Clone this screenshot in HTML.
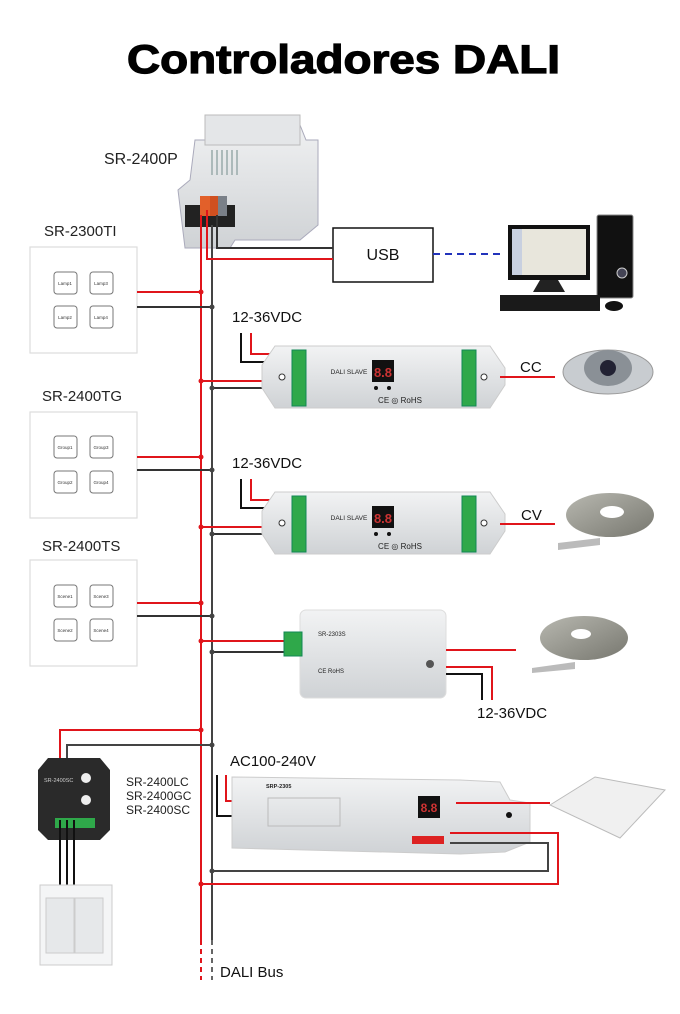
<!DOCTYPE html>
<html><head><meta charset="utf-8"><style>
html,body{margin:0;padding:0;background:#fff}
svg{display:block}
text{font-family:"Liberation Sans",Arial,sans-serif}
</style></head><body>
<svg width="680" height="1014" viewBox="0 0 680 1014" xmlns="http://www.w3.org/2000/svg">
<defs>
<linearGradient id="dev" x1="0" y1="0" x2="0" y2="1"><stop offset="0" stop-color="#f2f3f4"/><stop offset="1" stop-color="#cfd2d5"/></linearGradient>
<linearGradient id="strip" x1="0" y1="0" x2="1" y2="1"><stop offset="0" stop-color="#b8b8b0"/><stop offset="1" stop-color="#77776f"/></linearGradient>
</defs>
<text x="127" y="73" textLength="433" lengthAdjust="spacingAndGlyphs" font-size="40" font-weight="bold" fill="#000" stroke="#000" stroke-width="1.2">Controladores DALI</text>

<!-- SR-2400P -->
<text x="104" y="164" font-size="16" fill="#222">SR-2400P</text>
<polygon points="205,120 255,115 300,125 306,140 318,140 318,225 300,240 235,240 230,248 185,248 178,190 190,180 195,140 205,140" fill="url(#dev)" stroke="#aab" stroke-width="1"/>
<rect x="205" y="115" width="95" height="30" fill="#e4e6e8" stroke="#bbb"/>
<g stroke="#9aa" stroke-width="1.5"><line x1="212" y1="150" x2="212" y2="175"/><line x1="217" y1="150" x2="217" y2="175"/><line x1="222" y1="150" x2="222" y2="175"/><line x1="227" y1="150" x2="227" y2="175"/><line x1="232" y1="150" x2="232" y2="175"/><line x1="237" y1="150" x2="237" y2="175"/></g>
<rect x="185" y="205" width="50" height="22" fill="#222"/>
<rect x="200" y="196" width="10" height="20" fill="#e2602a"/><rect x="210" y="196" width="8" height="20" fill="#d05020"/>
<rect x="218" y="196" width="9" height="20" fill="#7a8088"/>

<!-- USB & computer -->
<rect x="333" y="228" width="100" height="54" fill="#fff" stroke="#111" stroke-width="1.5"/>
<text x="383" y="260" text-anchor="middle" font-size="16" fill="#111">USB</text>
<line x1="433" y1="254" x2="505" y2="254" stroke="#2233bb" stroke-width="2" stroke-dasharray="7,5"/>
<rect x="508" y="225" width="82" height="55" fill="#111"/>
<rect x="512" y="229" width="74" height="46" fill="#e8e6dc"/>
<rect x="512" y="229" width="10" height="46" fill="#c8d0e0"/>
<polygon points="540,280 558,280 565,292 533,292" fill="#222"/>
<rect x="597" y="215" width="36" height="83" rx="2" fill="#111" stroke="#888"/>
<circle cx="622" cy="273" r="5" fill="#445" stroke="#ccc"/>
<rect x="500" y="295" width="100" height="16" fill="#1a1a1a"/>
<ellipse cx="614" cy="306" rx="9" ry="5" fill="#111"/>

<!-- Bus -->
<line x1="201" y1="215" x2="201" y2="940" stroke="#e0151b" stroke-width="2"/>
<line x1="212" y1="225" x2="212" y2="940" stroke="#444" stroke-width="2"/>
<line x1="201" y1="940" x2="201" y2="980" stroke="#e0151b" stroke-width="2" stroke-dasharray="5,4"/>
<line x1="212" y1="940" x2="212" y2="980" stroke="#666" stroke-width="2" stroke-dasharray="5,4"/>
<text x="220" y="977" font-size="15" fill="#111">DALI Bus</text>
<polyline points="207,210 207,259 333,259" fill="none" stroke="#e0151b" stroke-width="2"/>
<polyline points="217,215 217,248 333,248" fill="none" stroke="#333" stroke-width="2"/>

<!-- Panels -->
<g font-size="15" fill="#222">
<text x="44" y="236">SR-2300TI</text>
<text x="42" y="401">SR-2400TG</text>
<text x="42" y="551">SR-2400TS</text>
</g>
<g fill="#fff" stroke="#ddd" stroke-width="1.2">
<rect x="30" y="247" width="107" height="106"/>
<rect x="30" y="412" width="107" height="106"/>
<rect x="30" y="560" width="107" height="106"/>
</g>
<g fill="#fff" stroke="#777" stroke-width="1">
<rect x="54" y="272" width="23" height="22" rx="3"/><rect x="90" y="272" width="23" height="22" rx="3"/>
<rect x="54" y="306" width="23" height="22" rx="3"/><rect x="90" y="306" width="23" height="22" rx="3"/>
<rect x="54" y="436" width="23" height="22" rx="3"/><rect x="90" y="436" width="23" height="22" rx="3"/>
<rect x="54" y="471" width="23" height="22" rx="3"/><rect x="90" y="471" width="23" height="22" rx="3"/>
<rect x="54" y="585" width="23" height="22" rx="3"/><rect x="90" y="585" width="23" height="22" rx="3"/>
<rect x="54" y="619" width="23" height="22" rx="3"/><rect x="90" y="619" width="23" height="22" rx="3"/>
</g>
<g font-size="4.5" fill="#333" text-anchor="middle">
<text x="65" y="285">Lamp1</text><text x="101" y="285">Lamp3</text><text x="65" y="319">Lamp2</text><text x="101" y="319">Lamp4</text>
<text x="65" y="449">Group1</text><text x="101" y="449">Group3</text><text x="65" y="484">Group2</text><text x="101" y="484">Group4</text>
<text x="65" y="598">Scene1</text><text x="101" y="598">Scene3</text><text x="65" y="632">Scene2</text><text x="101" y="632">Scene4</text>
</g>
<g stroke-width="2" fill="none">
<line x1="137" y1="292" x2="201" y2="292" stroke="#e0151b"/><line x1="137" y1="307" x2="212" y2="307" stroke="#333"/>
<line x1="137" y1="457" x2="201" y2="457" stroke="#e0151b"/><line x1="137" y1="470" x2="212" y2="470" stroke="#333"/>
<line x1="137" y1="603" x2="201" y2="603" stroke="#e0151b"/><line x1="137" y1="616" x2="212" y2="616" stroke="#333"/>
</g>

<!-- Drivers 1 & 2 -->
<g>
<text x="232" y="322" font-size="15" fill="#111">12-36VDC</text>
<polyline points="241,333 241,362 293,362" fill="none" stroke="#111" stroke-width="2"/>
<polyline points="251,333 251,354 293,354" fill="none" stroke="#e0151b" stroke-width="2"/>
<polyline points="201,381 293,381" fill="none" stroke="#e0151b" stroke-width="2"/>
<polyline points="212,388 293,388" fill="none" stroke="#333" stroke-width="2"/>
<polygon points="275,346 490,346 505,368 505,385 490,408 275,408 262,388 262,365" fill="url(#dev)" stroke="#ccc"/>
<rect x="292" y="350" width="14" height="56" fill="#2fa84a" stroke="#185"/>
<rect x="462" y="350" width="14" height="56" fill="#2fa84a" stroke="#185"/>
<rect x="372" y="360" width="22" height="22" fill="#111"/>
<text x="383" y="377" font-size="13" fill="#c33" text-anchor="middle" font-weight="bold">8.8</text>
<text x="349" y="374" font-size="6.5" fill="#222" text-anchor="middle">DALI SLAVE</text>
<text x="400" y="403" font-size="8" fill="#222" text-anchor="middle">CE ◎ RoHS</text>
<circle cx="376" cy="388" r="2" fill="#111"/><circle cx="389" cy="388" r="2" fill="#111"/>
<circle cx="282" cy="377" r="3" fill="#fff" stroke="#333"/><circle cx="484" cy="377" r="3" fill="#fff" stroke="#333"/>
</g>
<line x1="500" y1="377" x2="555" y2="377" stroke="#e0151b" stroke-width="2"/>
<text x="520" y="372" font-size="15" fill="#111">CC</text>
<ellipse cx="608" cy="372" rx="45" ry="22" fill="#c8ccd0" stroke="#999"/>
<ellipse cx="608" cy="368" rx="24" ry="18" fill="#8a9096"/>
<circle cx="608" cy="368" r="8" fill="#223"/>

<g transform="translate(0,146)">
<text x="232" y="322" font-size="15" fill="#111">12-36VDC</text>
<polyline points="241,333 241,362 293,362" fill="none" stroke="#111" stroke-width="2"/>
<polyline points="251,333 251,354 293,354" fill="none" stroke="#e0151b" stroke-width="2"/>
<polyline points="201,381 293,381" fill="none" stroke="#e0151b" stroke-width="2"/>
<polyline points="212,388 293,388" fill="none" stroke="#333" stroke-width="2"/>
<polygon points="275,346 490,346 505,368 505,385 490,408 275,408 262,388 262,365" fill="url(#dev)" stroke="#ccc"/>
<rect x="292" y="350" width="14" height="56" fill="#2fa84a" stroke="#185"/>
<rect x="462" y="350" width="14" height="56" fill="#2fa84a" stroke="#185"/>
<rect x="372" y="360" width="22" height="22" fill="#111"/>
<text x="383" y="377" font-size="13" fill="#c33" text-anchor="middle" font-weight="bold">8.8</text>
<text x="349" y="374" font-size="6.5" fill="#222" text-anchor="middle">DALI SLAVE</text>
<text x="400" y="403" font-size="8" fill="#222" text-anchor="middle">CE ◎ RoHS</text>
<circle cx="376" cy="388" r="2" fill="#111"/><circle cx="389" cy="388" r="2" fill="#111"/>
<circle cx="282" cy="377" r="3" fill="#fff" stroke="#333"/><circle cx="484" cy="377" r="3" fill="#fff" stroke="#333"/>
</g>
<line x1="500" y1="524" x2="555" y2="524" stroke="#e0151b" stroke-width="2"/>
<text x="521" y="520" font-size="15" fill="#111">CV</text>
<ellipse cx="610" cy="515" rx="44" ry="22" fill="url(#strip)"/>
<ellipse cx="612" cy="512" rx="12" ry="6" fill="#fff"/>
<polygon points="558,543 600,538 600,545 558,550" fill="#bbb"/>

<!-- SR-2303S -->
<line x1="201" y1="641" x2="290" y2="641" stroke="#e0151b" stroke-width="2"/>
<line x1="212" y1="652" x2="290" y2="652" stroke="#333" stroke-width="2"/>
<rect x="300" y="610" width="146" height="88" rx="6" fill="url(#dev)" stroke="#ddd"/>
<rect x="284" y="632" width="18" height="24" fill="#2fa84a" stroke="#185"/>
<text x="318" y="636" font-size="6" fill="#222">SR-2303S</text>
<text x="318" y="673" font-size="6" fill="#222">CE RoHS</text>
<circle cx="430" cy="664" r="4" fill="#555"/>
<line x1="446" y1="650" x2="516" y2="650" stroke="#e0151b" stroke-width="2"/>
<polyline points="446,667 492,667 492,700" fill="none" stroke="#e0151b" stroke-width="2"/>
<polyline points="446,674 482,674 482,700" fill="none" stroke="#111" stroke-width="2"/>
<text x="477" y="718" font-size="15" fill="#111">12-36VDC</text>
<ellipse cx="584" cy="638" rx="44" ry="22" fill="url(#strip)"/>
<ellipse cx="581" cy="634" rx="10" ry="5" fill="#fff"/>
<polygon points="532,668 575,662 575,669 532,673" fill="#bbb"/>

<!-- SR-2400SC -->
<polyline points="201,730 60,730 60,765" fill="none" stroke="#e0151b" stroke-width="2"/>
<polyline points="212,745 67,745 67,765" fill="none" stroke="#444" stroke-width="2"/>
<polygon points="48,758 100,758 110,770 110,830 100,840 48,840 38,830 38,770" fill="#2a2a2a"/>
<rect x="55" y="818" width="40" height="10" fill="#2fa84a"/>
<text x="44" y="782" font-size="5.5" fill="#ccc">SR-2400SC</text>
<circle cx="86" cy="778" r="5" fill="#eee"/><circle cx="86" cy="800" r="5" fill="#eee"/>
<g stroke="#111" stroke-width="2"><line x1="60" y1="820" x2="60" y2="886"/><line x1="67" y1="820" x2="67" y2="886"/><line x1="74" y1="820" x2="74" y2="886"/></g>
<rect x="40" y="885" width="72" height="80" fill="#f4f5f6" stroke="#ccc"/>
<rect x="46" y="898" width="28" height="55" fill="#e6e8ea" stroke="#ccc"/>
<rect x="75" y="898" width="28" height="55" fill="#e6e8ea" stroke="#ccc"/>
<g font-size="12" fill="#222"><text x="126" y="786">SR-2400LC</text><text x="126" y="800">SR-2400GC</text><text x="126" y="814">SR-2400SC</text></g>

<!-- SRP-2305 -->
<text x="230" y="766" font-size="15" fill="#111">AC100-240V</text>
<polyline points="217,775 217,816 250,816" fill="none" stroke="#111" stroke-width="2"/>
<polyline points="226,775 226,801 250,801" fill="none" stroke="#e0151b" stroke-width="2"/>
<polygon points="232,777 460,780 500,782 510,800 530,803 530,842 505,852 460,854 232,848" fill="url(#dev)" stroke="#ccc"/>
<text x="266" y="788" font-size="5.5" fill="#222" font-weight="bold">SRP-2305</text>
<rect x="268" y="798" width="72" height="28" fill="none" stroke="#bbb"/>
<rect x="418" y="796" width="22" height="22" fill="#111"/>
<text x="429" y="812" font-size="12" fill="#c33" text-anchor="middle" font-weight="bold">8.8</text>
<rect x="412" y="836" width="32" height="8" fill="#d22"/>
<circle cx="509" cy="815" r="3" fill="#111"/>
<line x1="456" y1="803" x2="550" y2="803" stroke="#e0151b" stroke-width="2"/>
<polyline points="450,833 558,833 558,884 201,884" fill="none" stroke="#e0151b" stroke-width="2"/>
<polyline points="450,843 548,843 548,871 212,871" fill="none" stroke="#444" stroke-width="2"/>
<polygon points="550,805 595,777 665,790 620,838" fill="#f0f0f0" stroke="#bbb"/>

<!-- junction dots -->
<g fill="#e0151b"><circle cx="201" cy="292" r="2.5"/><circle cx="201" cy="381" r="2.5"/><circle cx="201" cy="457" r="2.5"/><circle cx="201" cy="527" r="2.5"/><circle cx="201" cy="603" r="2.5"/><circle cx="201" cy="641" r="2.5"/><circle cx="201" cy="730" r="2.5"/><circle cx="201" cy="884" r="2.5"/></g>
<g fill="#444"><circle cx="212" cy="307" r="2.5"/><circle cx="212" cy="388" r="2.5"/><circle cx="212" cy="470" r="2.5"/><circle cx="212" cy="534" r="2.5"/><circle cx="212" cy="616" r="2.5"/><circle cx="212" cy="652" r="2.5"/><circle cx="212" cy="745" r="2.5"/><circle cx="212" cy="871" r="2.5"/></g>
</svg>
</body></html>
